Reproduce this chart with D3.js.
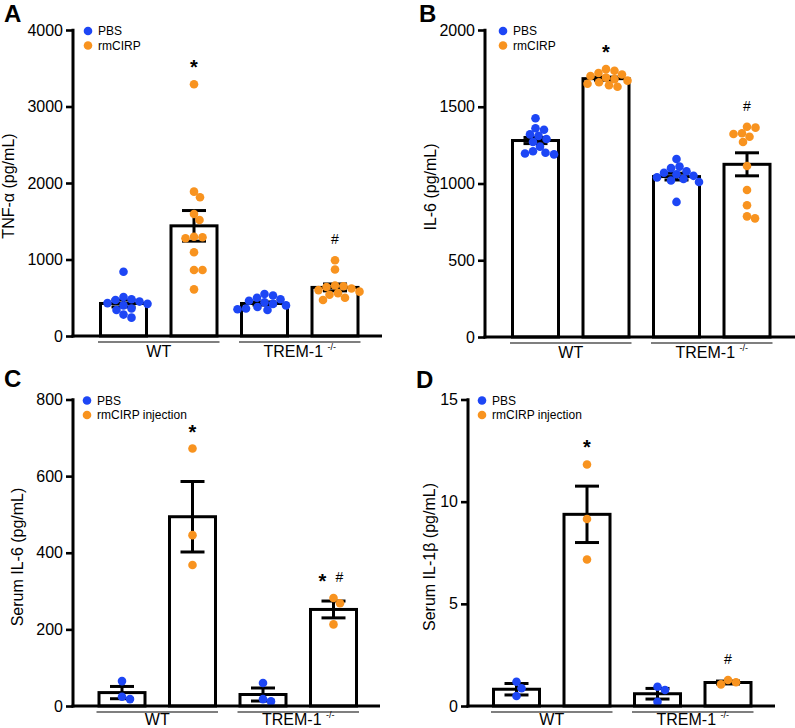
<!DOCTYPE html>
<html><head><meta charset="utf-8">
<script src="https://cdn.jsdelivr.net/npm/d3@7/dist/d3.min.js"></script>
<style>
body{margin:0;background:#fff}
svg{display:block;font-family:"Liberation Sans",Arial,Helvetica,sans-serif}
</style>
</head><body>
<svg id="chart" width="795" height="728"></svg>
<script>
// ---------- DATA ----------
const groups = ["WT-PBS", "WT-rmCIRP", "TREM-PBS", "TREM-rmCIRP"];
const genotypes = ["WT", "TREM-1"];
const genotypeSup = ["", "-/-"];
const treatment = ["PBS", "rmCIRP", "PBS", "rmCIRP"];

// Panel A: TNF-α (pg/mL)
const A_ticks = [0, 1000, 2000, 3000, 4000];
const A_legend = ["PBS", "rmCIRP"];
const A_mean = [425, 1440, 425, 635];
const A_sem = [45, 200, 20, 45];
const A_points = [
  [840, 510, 480, 470, 450, 430, 420, 400, 360, 340, 280, 240],
  [3290, 1887, 1813, 1595, 1516, 1298, 1290, 1277, 1094, 863, 863, 610],
  [550, 530, 500, 480, 460, 440, 420, 400, 380, 360, 350, 340],
  [990, 870, 660, 650, 640, 620, 600, 580, 560, 540, 500, 470]
];
const A_marks = ["", "*", "", "#"];

// Panel B: IL-6 (pg/mL)
const B_ticks = [0, 500, 1000, 1500, 2000];
const B_legend = ["PBS", "rmCIRP"];
const B_mean = [1280, 1683, 1045, 1125];
const B_sem = [20, 10, 22, 75];
const B_points = [
  [1425, 1360, 1350, 1320, 1310, 1290, 1270, 1240, 1210, 1200, 1195, 1190],
  [1745, 1735, 1720, 1710, 1700, 1690, 1680, 1670, 1660, 1650, 1640, 1630],
  [1160, 1110, 1100, 1080, 1070, 1060, 1050, 1040, 1030, 1020, 1010, 880],
  [1370, 1364, 1327, 1322, 1305, 1270, 1114, 958, 858, 786, 773]
];
const B_marks = ["", "*", "", "#"];

// Panel C: Serum IL-6 (pg/mL)
const C_ticks = [0, 200, 400, 600, 800];
const C_legend = ["PBS", "rmCIRP injection"];
const C_mean = [35, 494, 30, 252];
const C_sem = [16, 92, 17, 22];
const C_points = [
  [65, 24, 18],
  [672, 446, 368],
  [60, 18, 12],
  [282, 268, 213]
];
const C_marks = ["", "*", "", "*#"];

// Panel D: Serum IL-1β (pg/mL)
const D_ticks = [0, 5, 10, 15];
const D_legend = ["PBS", "rmCIRP injection"];
const D_mean = [0.82, 9.38, 0.6, 1.15];
const D_sem = [0.28, 1.38, 0.26, 0.07];
const D_points = [
  [1.19, 0.87, 0.49],
  [11.82, 9.15, 7.17],
  [0.94, 0.78, 0.21],
  [1.27, 1.06, 1.16]
];
const D_marks = ["", "*", "", "#"];

// ---------- LAYOUT / STYLE ----------
const BLUE = "#1d46f5", ORANGE = "#f8931f";
const panels = [
  {letter:"A", ylabel:"TNF-\u03b1 (pg/mL)", ticks:A_ticks, legend:A_legend, mean:A_mean, sem:A_sem, pts:A_points, marks:A_marks,
   x0:73, yTop:30, y0:336, xEnd:382, bar0:99, legX:88, ylabX:8.5, ylabY:186, letX:4, letY:22, labDy:21},
  {letter:"B", ylabel:"IL-6 (pg/mL)", ticks:B_ticks, legend:B_legend, mean:B_mean, sem:B_sem, pts:B_points, marks:B_marks,
   x0:485, yTop:30, y0:337, xEnd:795, bar0:511, legX:503, ylabX:430, ylabY:187, letX:419, letY:22, labDy:21},
  {letter:"C", ylabel:"Serum IL-6 (pg/mL)", ticks:C_ticks, legend:C_legend, mean:C_mean, sem:C_sem, pts:C_points, marks:C_marks,
   x0:73, yTop:399.5, y0:706, xEnd:380, bar0:97.5, legX:87, ylabX:17, ylabY:557, letX:4, letY:387, labDy:18.5},
  {letter:"D", ylabel:"Serum IL-1\u03b2 (pg/mL)", ticks:D_ticks, legend:D_legend, mean:D_mean, sem:D_sem, pts:D_points, marks:D_marks,
   x0:468, yTop:399.5, y0:706, xEnd:775, bar0:492, legX:482, ylabX:429, ylabY:557, letX:416, letY:388, labDy:18.5}
];

const svg = d3.select("#chart");
const R = 4.3;

function swarm(vals, y, cx) {
  const pts = vals.map(v => ({v, y: y(v)})).sort((a, b) => a.y - b.y);
  const placed = [];
  const d = 2 * R * 0.95;
  for (const p of pts) {
    let best = null;
    for (let k = 0; k < 400 && best === null; k++) {
      const offs = k === 0 ? [0] : [k * 0.5, -k * 0.5];
      for (const o of offs) {
        if (placed.every(q => Math.hypot(q.dx - o, q.y - p.y) >= d)) { best = o; break; }
      }
    }
    p.dx = best; p.x = cx + best; placed.push(p);
  }
  return pts;
}

panels.forEach(P => {
  const g = svg.append("g");
  const maxV = P.ticks[P.ticks.length - 1];
  const y = d3.scaleLinear().domain([0, maxV]).range([P.y0, P.yTop]);
  const pitch = 70.5, bw = 46;
  const x = d3.scaleBand().domain(groups)
    .range([P.bar0 + 1.5, P.bar0 + 1.5 + 3 * pitch + bw])
    .paddingInner(1 - bw / pitch).paddingOuter(0);

  // panel letter
  g.append("text").attr("x", P.letX).attr("y", P.letY)
    .attr("font-size", 24).attr("font-weight", "bold").text(P.letter);

  // y axis
  const yAxis = d3.axisLeft(y).tickValues(P.ticks).tickSize(7).tickPadding(3).tickFormat(d3.format("d"));
  const ya = g.append("g").attr("transform", `translate(${P.x0},0)`).call(yAxis);
  ya.select(".domain").remove();
  ya.selectAll(".tick line").attr("stroke", "#000").attr("stroke-width", 2.6);
  ya.selectAll(".tick text").attr("font-size", 16).attr("fill", "#000")
    .attr("font-family", '"Liberation Sans",Arial,sans-serif');
  g.append("line").attr("x1", P.x0).attr("x2", P.x0).attr("y1", P.yTop - 1.3).attr("y2", P.y0 + 1.5)
    .attr("stroke", "#000").attr("stroke-width", 3);

  // y label
  g.append("text").attr("transform", `translate(${P.ylabX},${P.ylabY}) rotate(-90)`)
    .attr("text-anchor", "middle").attr("dy", "0.35em").attr("font-size", 16).text(P.ylabel);

  // bars
  g.selectAll("rect.bar").data(groups).join("rect").attr("class", "bar")
    .attr("x", d => x(d)).attr("width", x.bandwidth())
    .attr("y", (d, i) => y(P.mean[i])).attr("height", (d, i) => P.y0 - y(P.mean[i]))
    .attr("fill", "#fff").attr("stroke", "#000").attr("stroke-width", 3);

  // error bars
  groups.forEach((d, i) => {
    const cx = x(d) + x.bandwidth() / 2;
    const hi = y(P.mean[i] + P.sem[i]), lo = y(Math.max(0, P.mean[i] - P.sem[i]));
    g.append("line").attr("x1", cx).attr("x2", cx).attr("y1", hi).attr("y2", lo)
      .attr("stroke", "#000").attr("stroke-width", 3);
    [hi, lo].forEach(yy => g.append("line").attr("x1", cx - 12).attr("x2", cx + 12)
      .attr("y1", yy).attr("y2", yy).attr("stroke", "#000").attr("stroke-width", 3));
  });

  // points
  groups.forEach((d, i) => {
    const cx = x(d) + x.bandwidth() / 2;
    const pts = swarm(P.pts[i], y, cx);
    g.selectAll(null).data(pts).join("circle")
      .attr("cx", p => p.x).attr("cy", p => p.y).attr("r", R)
      .attr("fill", treatment[i] === "PBS" ? BLUE : ORANGE);
    // significance marks
    const m = P.marks[i];
    if (m) {
      const top = d3.min(pts, p => p.y) - 21;
      const chars = m.split("");
      chars.forEach((c, j) => {
        const off = chars.length > 1 ? (j === 0 ? -11 : 6) : 0;
        if (c === "*") {
          g.append("text").attr("x", cx + off).attr("y", top + 11).attr("text-anchor", "middle")
            .attr("font-size", 20).attr("font-weight", "bold").text("*");
        } else {
          g.append("text").attr("x", cx + off).attr("y", top + 5).attr("text-anchor", "middle")
            .attr("font-size", 14).text("#");
        }
      });
    }
  });

  // x axis
  g.append("line").attr("x1", P.x0 - 1.5).attr("x2", P.xEnd).attr("y1", P.y0).attr("y2", P.y0)
    .attr("stroke", "#000").attr("stroke-width", 3);

  // genotype group lines and labels
  genotypes.forEach((gt, k) => {
    const a = x(groups[k * 2]) - 2.5, b = x(groups[k * 2 + 1]) + x.bandwidth() + 2.5;
    g.append("line").attr("x1", a).attr("x2", b).attr("y1", P.y0 + 6).attr("y2", P.y0 + 6)
      .attr("stroke", "#000").attr("stroke-width", 1.2);
    const t = g.append("text").attr("x", (a + b) / 2).attr("y", P.y0 + P.labDy)
      .attr("text-anchor", "middle").attr("font-size", 16).text(gt);
    if (genotypeSup[k]) {
      t.append("tspan").text("\u00a0");
      t.append("tspan").attr("font-size", 9).attr("dy", -7).text(genotypeSup[k]);
    }
  });

  // legend
  P.legend.forEach((name, k) => {
    const ly = P.yTop + 1 + k * 14.5;
    g.append("circle").attr("cx", P.legX).attr("cy", ly).attr("r", R)
      .attr("fill", k === 0 ? BLUE : ORANGE);
    g.append("text").attr("x", P.legX + 10).attr("y", ly).attr("dy", "0.35em")
      .attr("font-size", 12).text(name);
  });
});
</script>
</body></html>
